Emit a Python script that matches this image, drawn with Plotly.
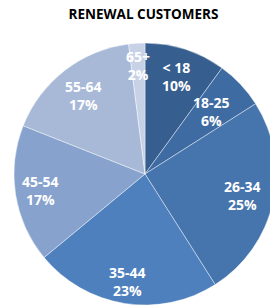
import math
import plotly.graph_objects as go

categories = ["< 18", "18-25", "26-34", "35-44", "45-54", "55-64", "65+"]
values = [10, 6, 25, 23, 17, 17, 2]
colors = ["#365E8F", "#3E6BA1", "#4674AD", "#4E80BE", "#86A2CD", "#A8B9D8", "#C8D2E6"]
title = "RENEWAL CUSTOMERS"

# style: radial position of each label, as a fraction of the pie radius
label_radius = [0.78, 0.70, 0.76, 0.83, 0.81, 0.76, 0.83]

fig = go.Figure(go.Pie(
    labels=categories,
    values=values,
    textinfo="none",
    sort=False,
    direction="clockwise",
    rotation=0,
    marker=dict(colors=colors, line=dict(color="rgba(255,255,255,0.6)", width=0.7)),
    hoverinfo="label+percent",
    showlegend=False,
    domain=dict(x=[0, 1], y=[0, 1]),
))

# data labels placed at the middle angle of each slice
total = sum(values)
cum = 0
annotations = []
for cat, v, rf in zip(categories, values, label_radius):
    mid = (cum + v / 2) / total * 2 * math.pi
    cum += v
    annotations.append(dict(
        x=0.5 + 0.5 * rf * math.sin(mid),
        y=0.5 + 0.5 * rf * math.cos(mid),
        xref="paper", yref="paper",
        text=f"{cat}<br>{round(v / total * 100)}%",
        showarrow=False,
        xanchor="center", yanchor="middle",
        font=dict(family="Open Sans", size=14, color="white", weight="bold"),
    ))

fig.update_layout(
    width=276,
    height=306,
    margin=dict(l=14, r=0, t=43, b=1),
    paper_bgcolor="white",
    plot_bgcolor="white",
    annotations=annotations,
    title=dict(text=title, xref="container", yref="container",
               x=143.5 / 276, xanchor="center", y=1 - 14.5 / 306, yanchor="middle",
               font=dict(family="Open Sans", size=13.5, color="black", weight="bold")),
)

fig.write_html(
    "out.html",
    config={"displayModeBar": False},
    post_script="document.body.style.margin='0';"
                "document.body.style.overflow='hidden';"
                "document.documentElement.style.overflow='hidden';",
)
